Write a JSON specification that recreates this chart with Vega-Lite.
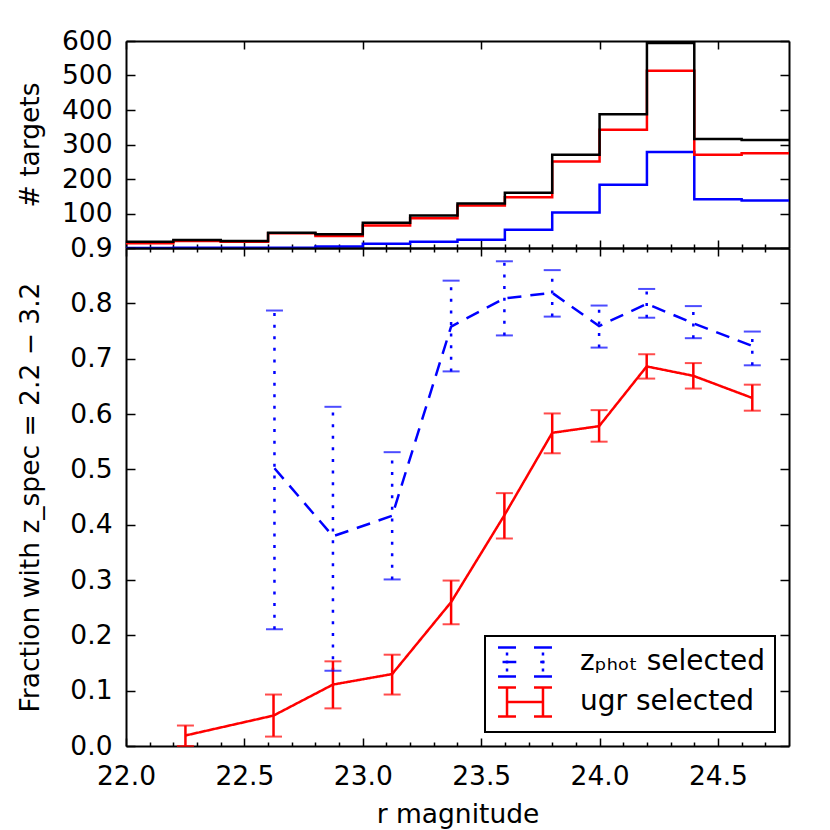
{
  "$schema": "https://vega.github.io/schema/vega-lite/v6.json",
  "padding": {"left": 16, "top": 28, "right": 10, "bottom": 5},
  "spacing": 0,
  "bounds": "flush",
  "config": {
    "view": {"stroke": null},
    "axis": {
      "labelFont": "DejaVu Sans", "labelFontSize": 26.5, "labelColor": "black",
      "titleFont": "DejaVu Sans", "titleFontSize": 26.5, "titleColor": "black", "titleFontWeight": "normal",
      "domainColor": "black", "domainWidth": 2, "tickColor": "black", "tickWidth": 1.5,
      "grid": false, "labelFlush": false, "labelOverlap": false
    },
    "legend": {"strokeWidth": 2}
  },
  "resolve": {"scale": {"color": "independent"}, "legend": {"color": "independent"}},
  "datasets": {
    "hist": [
      {"r": 22.0, "n": 18, "s": "all"}, {"r": 22.2, "n": 23, "s": "all"}, {"r": 22.4, "n": 20, "s": "all"},
      {"r": 22.6, "n": 44, "s": "all"}, {"r": 22.8, "n": 40, "s": "all"}, {"r": 23.0, "n": 73, "s": "all"},
      {"r": 23.2, "n": 94, "s": "all"}, {"r": 23.4, "n": 129, "s": "all"}, {"r": 23.6, "n": 160, "s": "all"},
      {"r": 23.8, "n": 270, "s": "all"}, {"r": 24.0, "n": 388, "s": "all"}, {"r": 24.2, "n": 594, "s": "all"},
      {"r": 24.4, "n": 316, "s": "all"}, {"r": 24.6, "n": 313, "s": "all"}, {"r": 24.8, "n": 313, "s": "all"},
      {"r": 22.0, "n": 14, "s": "ugr"}, {"r": 22.2, "n": 20, "s": "ugr"}, {"r": 22.4, "n": 18, "s": "ugr"},
      {"r": 22.6, "n": 43, "s": "ugr"}, {"r": 22.8, "n": 35, "s": "ugr"}, {"r": 23.0, "n": 65, "s": "ugr"},
      {"r": 23.2, "n": 86, "s": "ugr"}, {"r": 23.4, "n": 123, "s": "ugr"}, {"r": 23.6, "n": 147, "s": "ugr"},
      {"r": 23.8, "n": 251, "s": "ugr"}, {"r": 24.0, "n": 343, "s": "ugr"}, {"r": 24.2, "n": 514, "s": "ugr"},
      {"r": 24.4, "n": 270, "s": "ugr"}, {"r": 24.6, "n": 275, "s": "ugr"}, {"r": 24.8, "n": 275, "s": "ugr"},
      {"r": 22.0, "n": 0, "s": "zphot"}, {"r": 22.2, "n": 1, "s": "zphot"}, {"r": 22.4, "n": 1, "s": "zphot"},
      {"r": 22.6, "n": 1, "s": "zphot"}, {"r": 22.8, "n": 4, "s": "zphot"}, {"r": 23.0, "n": 12, "s": "zphot"},
      {"r": 23.2, "n": 18, "s": "zphot"}, {"r": 23.4, "n": 24, "s": "zphot"}, {"r": 23.6, "n": 53, "s": "zphot"},
      {"r": 23.8, "n": 103, "s": "zphot"}, {"r": 24.0, "n": 183, "s": "zphot"}, {"r": 24.2, "n": 278, "s": "zphot"},
      {"r": 24.4, "n": 141, "s": "zphot"}, {"r": 24.6, "n": 138, "s": "zphot"}, {"r": 24.8, "n": 138, "s": "zphot"}
    ],
    "frac": [
      {"sel": "zphot", "r": 22.627, "f": 0.502, "lo": 0.211, "hi": 0.787},
      {"sel": "zphot", "r": 22.874, "f": 0.379, "lo": 0.136, "hi": 0.613},
      {"sel": "zphot", "r": 23.124, "f": 0.416, "lo": 0.301, "hi": 0.531},
      {"sel": "zphot", "r": 23.373, "f": 0.758, "lo": 0.677, "hi": 0.841},
      {"sel": "zphot", "r": 23.598, "f": 0.809, "lo": 0.742, "hi": 0.876},
      {"sel": "zphot", "r": 23.8, "f": 0.819, "lo": 0.776, "hi": 0.86},
      {"sel": "zphot", "r": 23.998, "f": 0.759, "lo": 0.72, "hi": 0.796},
      {"sel": "zphot", "r": 24.199, "f": 0.799, "lo": 0.774, "hi": 0.826},
      {"sel": "zphot", "r": 24.396, "f": 0.764, "lo": 0.737, "hi": 0.795},
      {"sel": "zphot", "r": 24.645, "f": 0.723, "lo": 0.688, "hi": 0.749},
      {"sel": "ugr", "r": 22.251, "f": 0.019, "lo": 0.0, "hi": 0.037},
      {"sel": "ugr", "r": 22.623, "f": 0.055, "lo": 0.017, "hi": 0.093},
      {"sel": "ugr", "r": 22.874, "f": 0.111, "lo": 0.068, "hi": 0.153},
      {"sel": "ugr", "r": 23.124, "f": 0.13, "lo": 0.093, "hi": 0.165},
      {"sel": "ugr", "r": 23.373, "f": 0.26, "lo": 0.22, "hi": 0.299},
      {"sel": "ugr", "r": 23.598, "f": 0.417, "lo": 0.375, "hi": 0.457},
      {"sel": "ugr", "r": 23.8, "f": 0.566, "lo": 0.529, "hi": 0.601},
      {"sel": "ugr", "r": 23.998, "f": 0.578, "lo": 0.55, "hi": 0.607},
      {"sel": "ugr", "r": 24.199, "f": 0.686, "lo": 0.664, "hi": 0.708},
      {"sel": "ugr", "r": 24.396, "f": 0.669, "lo": 0.646, "hi": 0.692},
      {"sel": "ugr", "r": 24.645, "f": 0.629, "lo": 0.606, "hi": 0.653}
    ]
  },
  "vconcat": [
    {
      "width": 663,
      "height": 207,
      "data": {"name": "hist"},
      "layer": [
        {
          "transform": [{"filter": "datum.s === 'zphot'"}],
          "mark": {"type": "line", "interpolate": "step-after", "color": "blue", "strokeWidth": 2.5, "clip": true},
          "encoding": {
            "x": {"field": "r", "type": "quantitative", "scale": {"domain": [22, 24.8], "nice": false},
              "axis": {"orient": "bottom", "values": [22, 22.5, 23, 23.5, 24, 24.5], "tickSize": -8, "labels": false, "title": null}},
            "y": {"field": "n", "type": "quantitative", "scale": {"domain": [0, 600], "nice": false},
              "axis": {"orient": "left", "values": [100, 200, 300, 400, 500, 600], "tickSize": -9, "labelPadding": 23,
                "title": "# targets", "titleX": -96, "titleBaseline": "middle"}}
          }
        },
        {
          "transform": [{"filter": "datum.s === 'ugr'"}],
          "mark": {"type": "line", "interpolate": "step-after", "color": "red", "strokeWidth": 2.5, "clip": true},
          "encoding": {
            "x": {"field": "r", "type": "quantitative",
              "axis": {"orient": "bottom", "values": [22.1, 22.2, 22.3, 22.4, 22.6, 22.7, 22.8, 22.9, 23.1, 23.2, 23.3, 23.4, 23.6, 23.7, 23.8, 23.9, 24.1, 24.2, 24.3, 24.4, 24.6, 24.7],
                "tickSize": -4, "labels": false, "domain": false, "title": null}},
            "y": {"field": "n", "type": "quantitative", "axis": null}
          }
        },
        {
          "transform": [{"filter": "datum.s === 'all'"}],
          "mark": {"type": "line", "interpolate": "step-after", "color": "black", "strokeWidth": 2.5, "clip": true},
          "encoding": {
            "x": {"field": "r", "type": "quantitative",
              "axis": {"orient": "top", "values": [22, 22.5, 23, 23.5, 24, 24.5], "tickSize": -8, "labels": false, "title": null}},
            "y": {"field": "n", "type": "quantitative",
              "axis": {"orient": "right", "values": [100, 200, 300, 400, 500, 600], "tickSize": -9, "labels": false, "title": null}}
          }
        }
      ],
      "resolve": {"axis": {"x": "independent", "y": "independent"}}
    },
    {
      "width": 663,
      "height": 498,
      "data": {"name": "frac"},
      "layer": [
        {
          "mark": {"type": "rule", "strokeWidth": 2.5},
          "encoding": {
            "x": {"field": "r", "type": "quantitative", "scale": {"domain": [22, 24.8], "nice": false},
              "axis": {"orient": "bottom", "values": [22, 22.5, 23, 23.5, 24, 24.5], "format": ".1f", "tickSize": -8,
                "labelPadding": 25, "title": "r magnitude", "titlePadding": 12}},
            "y": {"field": "lo", "type": "quantitative", "scale": {"domain": [0, 0.9], "nice": false},
              "axis": {"orient": "left", "values": [0, 0.1, 0.2, 0.3, 0.4, 0.5, 0.6, 0.7, 0.8, 0.9], "format": ".1f",
                "tickSize": -9, "labelPadding": 23, "title": "Fraction with z_spec = 2.2 − 3.2", "titleX": -96, "titleBaseline": "middle"}},
            "y2": {"field": "hi"},
            "color": {"condition": {"test": "datum.sel === 'zphot'", "value": "blue"}, "value": "red"},
            "strokeDash": {"condition": {"test": "datum.sel === 'zphot'", "value": [3, 8.6]}, "value": [1, 0]}
          }
        },
        {
          "mark": {"type": "tick", "orient": "horizontal", "size": 17, "thickness": 2},
          "encoding": {
            "x": {"field": "r", "type": "quantitative",
              "axis": {"orient": "bottom", "values": [22.1, 22.2, 22.3, 22.4, 22.6, 22.7, 22.8, 22.9, 23.1, 23.2, 23.3, 23.4, 23.6, 23.7, 23.8, 23.9, 24.1, 24.2, 24.3, 24.4, 24.6, 24.7],
                "tickSize": -4, "labels": false, "domain": false, "title": null}},
            "y": {"field": "lo", "type": "quantitative", "axis": null},
            "color": {"condition": {"test": "datum.sel === 'zphot'", "value": "blue"}, "value": "red"}
          }
        },
        {
          "mark": {"type": "tick", "orient": "horizontal", "size": 17, "thickness": 2},
          "encoding": {
            "x": {"field": "r", "type": "quantitative",
              "axis": {"orient": "top", "values": [22, 22.5, 23, 23.5, 24, 24.5], "tickSize": -8, "labels": false, "title": null}},
            "y": {"field": "hi", "type": "quantitative", "axis": null},
            "color": {"condition": {"test": "datum.sel === 'zphot'", "value": "blue"}, "value": "red"}
          }
        },
        {
          "mark": {"type": "line", "strokeWidth": 2.5},
          "encoding": {
            "x": {"field": "r", "type": "quantitative",
              "axis": {"orient": "top", "values": [22.1, 22.2, 22.3, 22.4, 22.6, 22.7, 22.8, 22.9, 23.1, 23.2, 23.3, 23.4, 23.6, 23.7, 23.8, 23.9, 24.1, 24.2, 24.3, 24.4, 24.6, 24.7],
                "tickSize": -4, "labels": false, "domain": false, "title": null}},
            "y": {"field": "f", "type": "quantitative",
              "axis": {"orient": "right", "values": [0, 0.1, 0.2, 0.3, 0.4, 0.5, 0.6, 0.7, 0.8, 0.9], "tickSize": -9, "labels": false, "title": null}},
            "color": {
              "field": "sel", "type": "nominal",
              "scale": {"domain": ["zphot", "ugr"], "range": ["blue", "red"]},
              "legend": {
                "orient": "bottom-right", "offset": 14, "title": null,
                "labelExpr": "datum.value === 'zphot' ? 'zₚₕₒₜ selected' : 'ugr selected'",
                "labelFont": "DejaVu Sans", "labelFontSize": 28, "labelColor": "black", "labelLimit": 400,
                "symbolSize": 841, "symbolOffset": 14, "labelOffset": 39, "padding": 10, "rowPadding": 0,
                "symbolStrokeWidth": 2.5, "symbolDash": [1, 0], "strokeColor": "black", "fillColor": "white",
                "encode": {
                  "symbols": {
                    "update": {
                      "shape": {"signal": "datum.value === 'zphot' ? 'M-1.86,-1L-0.62,-1M-1.24,-0.65L-1.24,-0.45M-1.24,-0.1L-1.24,0.1M-1.24,0.45L-1.24,0.65M-1.86,1L-0.62,1M0.62,-1L1.86,-1M1.24,-0.65L1.24,-0.45M1.24,-0.1L1.24,0.1M1.24,0.45L1.24,0.65M0.62,1L1.86,1M-1.55,0L-0.6,0M1.05,0L1.35,0' : 'M-1.86,-1L-0.62,-1M-1.24,-1L-1.24,1M-1.86,1L-0.62,1M0.62,-1L1.86,-1M1.24,-1L1.24,1M0.62,1L1.86,1M-1.24,0L1.24,0'"},
                      "strokeDash": {"value": [1, 0]},
                      "fill": {"value": "transparent"}
                    }
                  }
                }
              }
            },
            "strokeDash": {
              "field": "sel", "type": "nominal",
              "scale": {"domain": ["zphot", "ugr"], "range": [[14, 9], [1, 0]]},
              "legend": null
            }
          }
        }
      ],
      "resolve": {"axis": {"x": "independent", "y": "independent"}}
    }
  ]
}
